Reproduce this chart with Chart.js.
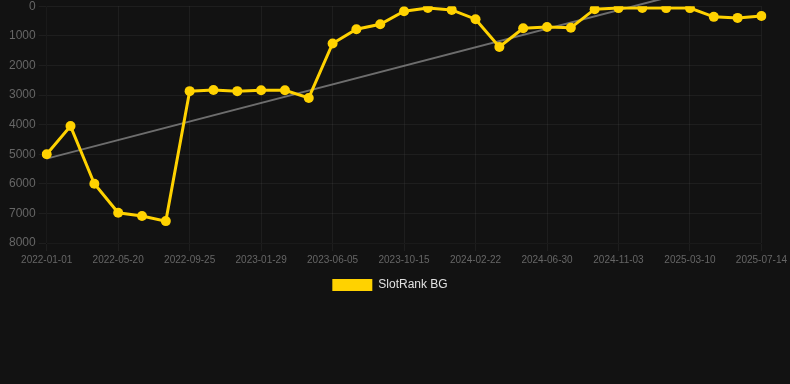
<!DOCTYPE html>
<html>
<head>
<meta charset="utf-8">
<script src="https://cdn.jsdelivr.net/npm/chart.js@4"></script>
<style>
  html, body { margin: 0; padding: 0; background: #121212; overflow: hidden; }
  #wrap { width: 790px; height: 305px; margin-top: -4px; }
</style>
</head>
<body>
<div id="wrap"><canvas id="rankChart"></canvas></div>
<script>
// SlotRank BG history — lower rank is better, so the y axis runs upside down

const dates = [
  "2022-01-01", "2022-02-16", "2022-04-03", "2022-05-20", "2022-07-02", "2022-08-14",
  "2022-09-25", "2022-11-06", "2022-12-18", "2023-01-29", "2023-03-13", "2023-04-24",
  "2023-06-05", "2023-07-19", "2023-09-01", "2023-10-15", "2023-11-28", "2024-01-10",
  "2024-02-22", "2024-04-05", "2024-05-18", "2024-06-30", "2024-08-11", "2024-09-22",
  "2024-11-03", "2024-12-15", "2025-01-26", "2025-03-10", "2025-04-21", "2025-06-02",
  "2025-07-14"
];

const rankBG = [
  5000, 4050, 6000, 6980, 7090, 7260,
  2870, 2830, 2870, 2840, 2840, 3100,
  1260, 780, 610, 170, 60, 125,
  440, 1375, 745, 700, 730, 100,
  65, 60, 65, 65, 360, 395,
  330
];

// trend line: only the two end values, joined across the gap
const trendStart = 5150;
const trendEnd = -1120;
const trend = dates.map((d, i) => i === 0 ? trendStart : i === dates.length - 1 ? trendEnd : null);

const fontFamily = "'Liberation Sans', Arial, sans-serif";
const tickColor = "#666";
const gridColor = "rgba(255,255,255,0.05)";
const gold = "#ffd200";

const ctx = document.getElementById("rankChart").getContext("2d");
new Chart(ctx, {
  type: "line",
  data: {
    labels: dates,
    datasets: [
      {
        label: "SlotRank BG",
        data: rankBG,
        borderColor: gold,
        backgroundColor: gold,
        borderWidth: 3,
        pointRadius: 5,
        pointBackgroundColor: gold,
        pointBorderWidth: 0,
        tension: 0,
        order: 0,
      },
      {
        label: "trend",
        data: trend,
        spanGaps: true,
        borderColor: "rgba(140,140,140,0.75)",
        borderWidth: 2,
        pointRadius: 0,
        clip: false,
        order: 1,
      }
    ]
  },
  options: {
    responsive: true,
    maintainAspectRatio: false,
    animation: false,
    layout: { padding: { left: 6, right: 16, top: 0, bottom: 0 } },
    plugins: {
      legend: {
        position: "bottom",
        labels: {
          color: "#e0e0e0",
          font: { family: fontFamily, size: 12 },
          generateLabels: chart => [{
            text: "SlotRank BG",
            fillStyle: gold,
            strokeStyle: gold,
            lineWidth: 0,
            fontColor: "#e0e0e0",
            datasetIndex: 0,
            hidden: false,
          }]
        }
      },
      tooltip: { enabled: false }
    },
    scales: {
      x: {
        ticks: {
          color: tickColor,
          maxRotation: 0,
          autoSkip: false,
          font: { family: fontFamily, size: 10 },
          callback: function(value, index) {
            return index % 3 === 0 ? dates[index] : null;
          }
        },
        grid: { color: gridColor }
      },
      y: {
        reverse: true,
        min: 0,
        max: 8000,
        ticks: {
          stepSize: 1000,
          color: tickColor,
          font: { family: fontFamily, size: 12 },
          callback: v => String(v)
        },
        grid: { color: gridColor }
      }
    }
  }
});
</script>
</body>
</html>
